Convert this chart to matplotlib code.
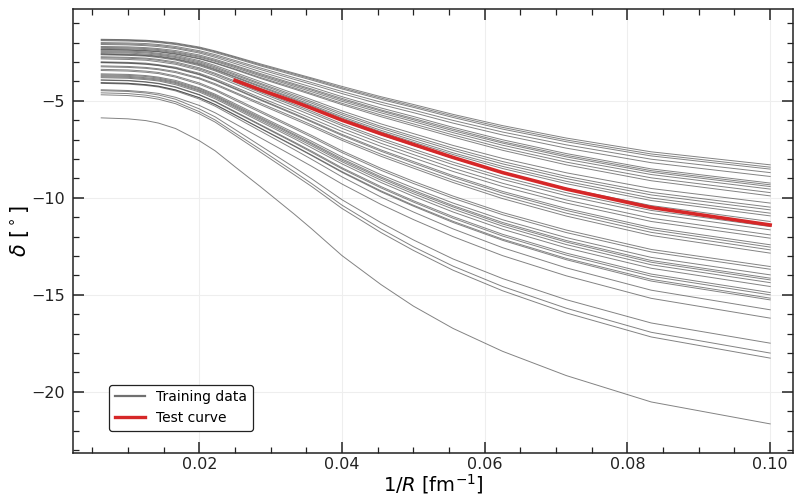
"""
Phase shift versus inverse box size: training curves and one test curve.
"""

import matplotlib.pyplot as plt
import numpy as np
from matplotlib.lines import Line2D
from matplotlib.ticker import MultipleLocator


# box sizes R [fm]; the x axis is 1/R
box_sizes = [160, 100, 80, 70, 60, 50, 45, 40, 35, 30, 28, 25, 22, 20, 18, 16, 14, 12, 10]

# phase shift delta [deg] of every training curve, one row per curve
training_curves = [
    [-1.83, -1.85, -1.88, -1.93, -2.02, -2.23, -2.43, -2.72, -3.10, -3.58, -3.82, -4.26, -4.79, -5.19, -5.70, -6.28, -6.92, -7.63, -8.30],
    [-1.86, -1.88, -1.91, -1.96, -2.06, -2.27, -2.47, -2.76, -3.15, -3.63, -3.87, -4.33, -4.86, -5.27, -5.78, -6.37, -7.02, -7.74, -8.42],
    [-1.90, -1.92, -1.95, -2.00, -2.10, -2.31, -2.52, -2.81, -3.20, -3.69, -3.93, -4.39, -4.93, -5.34, -5.86, -6.46, -7.11, -7.84, -8.52],
    [-2.00, -2.02, -2.05, -2.10, -2.20, -2.42, -2.62, -2.92, -3.31, -3.81, -4.06, -4.52, -5.07, -5.48, -6.01, -6.61, -7.27, -8.01, -8.70],
    [-2.05, -2.07, -2.11, -2.15, -2.26, -2.48, -2.69, -2.99, -3.39, -3.90, -4.15, -4.63, -5.19, -5.61, -6.15, -6.76, -7.44, -8.19, -8.90],
    [-2.10, -2.12, -2.16, -2.21, -2.31, -2.54, -2.76, -3.08, -3.50, -4.03, -4.29, -4.79, -5.37, -5.81, -6.37, -7.01, -7.72, -8.51, -9.24],
    [-2.20, -2.22, -2.26, -2.31, -2.41, -2.64, -2.86, -3.18, -3.60, -4.13, -4.39, -4.88, -5.47, -5.91, -6.46, -7.11, -7.81, -8.60, -9.33],
    [-2.25, -2.27, -2.31, -2.36, -2.47, -2.70, -2.92, -3.23, -3.66, -4.19, -4.45, -4.95, -5.53, -5.98, -6.54, -7.18, -7.89, -8.68, -9.42],
    [-2.30, -2.32, -2.36, -2.41, -2.52, -2.75, -2.97, -3.29, -3.72, -4.26, -4.53, -5.03, -5.62, -6.07, -6.64, -7.29, -8.01, -8.80, -9.55],
    [-2.35, -2.37, -2.41, -2.46, -2.57, -2.81, -3.04, -3.36, -3.80, -4.34, -4.62, -5.13, -5.73, -6.19, -6.76, -7.43, -8.16, -8.97, -9.73],
    [-2.37, -2.39, -2.43, -2.48, -2.60, -2.84, -3.07, -3.40, -3.85, -4.40, -4.68, -5.20, -5.82, -6.29, -6.87, -7.55, -8.30, -9.12, -9.90],
    [-2.42, -2.44, -2.48, -2.55, -2.66, -2.93, -3.18, -3.54, -4.01, -4.63, -4.94, -5.52, -6.19, -6.69, -7.30, -7.97, -8.71, -9.52, -10.27],
    [-2.47, -2.49, -2.53, -2.60, -2.72, -2.99, -3.25, -3.62, -4.10, -4.72, -5.04, -5.63, -6.32, -6.83, -7.44, -8.13, -8.89, -9.72, -10.48],
    [-2.52, -2.54, -2.59, -2.65, -2.77, -3.05, -3.31, -3.68, -4.16, -4.80, -5.12, -5.72, -6.41, -6.93, -7.55, -8.25, -9.01, -9.85, -10.62],
    [-2.57, -2.60, -2.64, -2.70, -2.83, -3.10, -3.37, -3.75, -4.24, -4.88, -5.21, -5.82, -6.52, -7.04, -7.68, -8.38, -9.15, -10.01, -10.79],
    [-2.60, -2.63, -2.67, -2.73, -2.86, -3.14, -3.41, -3.79, -4.29, -4.94, -5.27, -5.89, -6.60, -7.13, -7.77, -8.49, -9.27, -10.14, -10.93],
    [-2.63, -2.66, -2.70, -2.77, -2.90, -3.19, -3.46, -3.86, -4.37, -5.04, -5.39, -6.02, -6.75, -7.30, -7.96, -8.70, -9.51, -10.40, -11.22],
    [-2.73, -2.76, -2.80, -2.87, -3.00, -3.30, -3.58, -3.98, -4.51, -5.19, -5.54, -6.19, -6.93, -7.49, -8.16, -8.92, -9.74, -10.65, -11.48],
    [-2.78, -2.81, -2.85, -2.92, -3.06, -3.36, -3.64, -4.05, -4.58, -5.27, -5.63, -6.28, -7.04, -7.61, -8.29, -9.05, -9.89, -10.81, -11.65],
    [-2.84, -2.87, -2.91, -2.99, -3.12, -3.43, -3.72, -4.14, -4.68, -5.39, -5.75, -6.42, -7.19, -7.77, -8.47, -9.25, -10.11, -11.05, -11.91],
    [-2.99, -3.02, -3.06, -3.14, -3.27, -3.58, -3.87, -4.29, -4.84, -5.54, -5.91, -6.58, -7.35, -7.94, -8.64, -9.42, -10.27, -11.22, -12.08],
    [-3.02, -3.05, -3.10, -3.17, -3.31, -3.63, -3.93, -4.36, -4.93, -5.66, -6.04, -6.73, -7.53, -8.13, -8.86, -9.67, -10.55, -11.53, -12.42],
    [-3.04, -3.07, -3.12, -3.19, -3.34, -3.66, -3.96, -4.40, -4.97, -5.71, -6.09, -6.79, -7.60, -8.21, -8.94, -9.76, -10.65, -11.64, -12.54],
    [-3.20, -3.23, -3.28, -3.35, -3.49, -3.82, -4.12, -4.56, -5.12, -5.86, -6.24, -6.95, -7.75, -8.36, -9.09, -9.90, -10.79, -11.78, -12.68],
    [-3.25, -3.28, -3.33, -3.40, -3.55, -3.87, -4.18, -4.62, -5.20, -5.95, -6.33, -7.04, -7.86, -8.47, -9.21, -10.04, -10.94, -11.94, -12.85],
    [-3.38, -3.41, -3.47, -3.54, -3.72, -4.08, -4.41, -4.89, -5.52, -6.36, -6.78, -7.58, -8.48, -9.15, -9.91, -10.76, -11.66, -12.66, -13.54],
    [-3.44, -3.47, -3.53, -3.60, -3.78, -4.15, -4.47, -4.97, -5.60, -6.44, -6.87, -7.67, -8.58, -9.26, -10.02, -10.87, -11.79, -12.79, -13.68],
    [-3.61, -3.64, -3.70, -3.78, -3.95, -4.33, -4.66, -5.15, -5.80, -6.65, -7.08, -7.89, -8.81, -9.49, -10.27, -11.13, -12.05, -13.07, -13.97],
    [-3.66, -3.69, -3.75, -3.83, -4.01, -4.38, -4.72, -5.22, -5.87, -6.73, -7.17, -7.99, -8.92, -9.61, -10.40, -11.27, -12.20, -13.23, -14.14],
    [-3.71, -3.74, -3.81, -3.88, -4.06, -4.44, -4.77, -5.28, -5.93, -6.79, -7.23, -8.06, -8.99, -9.69, -10.47, -11.35, -12.28, -13.32, -14.23],
    [-3.76, -3.79, -3.86, -3.93, -4.11, -4.49, -4.83, -5.34, -6.00, -6.87, -7.31, -8.14, -9.09, -9.79, -10.58, -11.46, -12.41, -13.45, -14.37],
    [-3.81, -3.84, -3.91, -3.98, -4.17, -4.55, -4.90, -5.41, -6.08, -6.96, -7.42, -8.25, -9.21, -9.92, -10.73, -11.62, -12.58, -13.63, -14.57],
    [-3.92, -3.95, -4.02, -4.10, -4.28, -4.68, -5.03, -5.55, -6.23, -7.13, -7.59, -8.45, -9.42, -10.15, -10.97, -11.88, -12.85, -13.93, -14.88],
    [-3.94, -3.97, -4.04, -4.12, -4.31, -4.70, -5.06, -5.59, -6.27, -7.18, -7.65, -8.51, -9.49, -10.22, -11.05, -11.97, -12.95, -14.04, -15.00],
    [-4.07, -4.10, -4.17, -4.25, -4.44, -4.84, -5.19, -5.72, -6.41, -7.32, -7.79, -8.65, -9.64, -10.38, -11.21, -12.13, -13.12, -14.20, -15.17],
    [-4.07, -4.10, -4.17, -4.25, -4.44, -4.84, -5.20, -5.74, -6.43, -7.35, -7.82, -8.69, -9.69, -10.43, -11.27, -12.19, -13.19, -14.29, -15.26],
    [-4.10, -4.14, -4.21, -4.29, -4.49, -4.91, -5.28, -5.84, -6.56, -7.52, -8.01, -8.92, -9.96, -10.73, -11.60, -12.57, -13.61, -14.76, -15.77],
    [-4.43, -4.47, -4.54, -4.62, -4.82, -5.24, -5.62, -6.18, -6.91, -7.88, -8.37, -9.29, -10.34, -11.12, -12.00, -12.98, -14.02, -15.18, -16.20],
    [-4.48, -4.52, -4.60, -4.70, -4.92, -5.42, -5.83, -6.48, -7.32, -8.44, -9.01, -10.10, -11.28, -12.17, -13.15, -14.16, -15.25, -16.45, -17.49],
    [-4.59, -4.63, -4.71, -4.82, -5.05, -5.56, -5.99, -6.66, -7.51, -8.67, -9.26, -10.38, -11.60, -12.52, -13.52, -14.57, -15.69, -16.93, -18.00],
    [-4.69, -4.73, -4.81, -4.92, -5.15, -5.67, -6.10, -6.78, -7.65, -8.82, -9.41, -10.55, -11.79, -12.71, -13.73, -14.79, -15.93, -17.17, -18.26],
    [-5.88, -5.93, -6.02, -6.15, -6.43, -7.06, -7.58, -8.40, -9.43, -10.85, -11.59, -12.98, -14.47, -15.58, -16.73, -17.91, -19.16, -20.52, -21.65],
]

# test curve, only for R <= 40 fm
test_box_sizes = [40, 35, 30, 28, 25, 22, 20, 18, 16, 14, 12, 10]
test_delta = [-3.95, -4.44, -5.05, -5.38, -6.00, -6.70, -7.25, -7.92, -8.70, -9.55, -10.50, -11.40]


def style_axes(ax) -> None:
    """
    Box frame with inward ticks on every side, faint grid.
    """
    ax.set_xlim(0.0023, 0.1032)
    ax.set_ylim(-23.15, -0.27)

    ax.xaxis.set_major_locator(MultipleLocator(0.02))
    ax.xaxis.set_minor_locator(MultipleLocator(0.005))
    ax.yaxis.set_major_locator(MultipleLocator(5))
    ax.yaxis.set_minor_locator(MultipleLocator(1))
    ax.xaxis.set_major_formatter(plt.FormatStrFormatter("%.2f"))

    ax.tick_params(which="both", direction="in", top=True, right=True,
                   labelsize=11.5, colors="#222222")
    ax.tick_params(axis="x", pad=3)
    ax.tick_params(axis="y", pad=6)
    ax.tick_params(which="major", length=8, width=1.1)
    ax.tick_params(which="minor", length=4, width=0.9)

    for spine in ax.spines.values():
        spine.set_linewidth(1.1)
        spine.set_color("#222222")

    ax.grid(True, which="major", color="#eeeeee", linewidth=0.8)
    ax.set_axisbelow(True)


def main() -> None:
    fig = plt.figure(figsize=(7.94, 5.0), dpi=100)
    ax = fig.add_axes([0.092, 0.094, 0.9067, 0.888])

    x = 1.0 / np.array(box_sizes, dtype=float)
    for curve in training_curves:
        ax.plot(x, curve, color="#303030", alpha=0.6, linewidth=0.7)

    test_x = 1.0 / np.array(test_box_sizes, dtype=float)
    ax.plot(test_x, test_delta, color="#d62728", linewidth=2.6, zorder=5)

    style_axes(ax)

    ax.set_xlabel(r"$1/R$ [fm$^{-1}$]", fontsize=14, labelpad=0)
    ax.set_ylabel(r"$\delta$ [$^\circ$]", fontsize=15, labelpad=0)

    handles = [
        Line2D([], [], color="#707070", linewidth=1.6),
        Line2D([], [], color="#d62728", linewidth=2.4),
    ]
    legend = ax.legend(handles, ["Training data", "Test curve"],
                       loc="lower left", bbox_to_anchor=(0.05, 0.05),
                       borderaxespad=0, fontsize=10, frameon=True,
                       fancybox=True, framealpha=1, handlelength=2.2)
    legend.get_frame().set_edgecolor("#222222")
    legend.get_frame().set_linewidth(0.9)

    fig.savefig("out.png", dpi=100)
    plt.close(fig)


if __name__ == "__main__":
    main()
